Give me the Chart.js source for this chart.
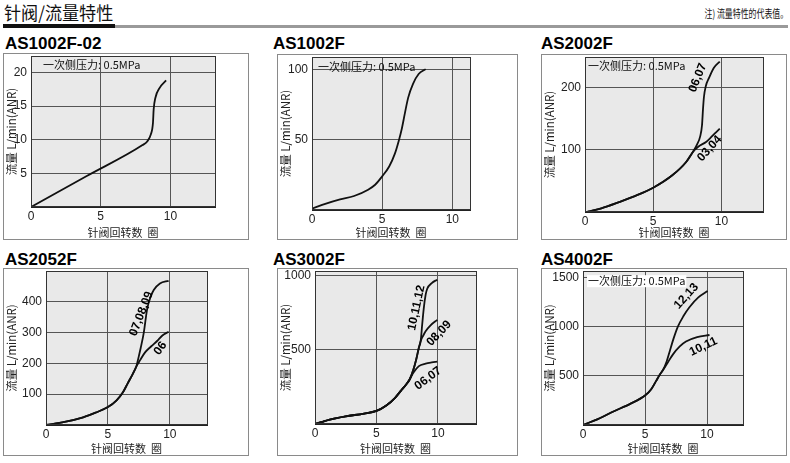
<!DOCTYPE html>
<html>
<head>
<meta charset="utf-8">
<script src="https://cdn.jsdelivr.net/npm/chart.js@4.4.0/dist/chart.umd.min.js"></script>
<style>
body{margin:0;width:790px;height:463px;background:#fff;position:relative;overflow:hidden;font-family:"Liberation Sans",Arial,sans-serif;}
.hd{position:absolute;left:4px;top:1px;font:18px/22px "Noto Sans CJK SC";color:#111;transform:scaleX(0.95);transform-origin:left;}
.barK{position:absolute;left:3px;top:24px;width:112px;height:4px;background:#111;}
.barG{position:absolute;left:115px;top:25px;width:673px;height:3px;background:#9a9a9a;}
.note{position:absolute;right:2px;top:6px;font:11px/14px "Noto Sans CJK SC";color:#111;transform:scaleX(0.72);transform-origin:right;}
.ttl{position:absolute;font:bold 17px/17px "Liberation Sans",Arial,sans-serif;color:#000;}
.box{position:absolute;border:1px solid #8a8a8a;box-sizing:border-box;}
canvas{position:absolute;}
</style>
</head>
<body>
<div class="hd">针阀/流量特性</div>
<div class="barK"></div><div class="barG"></div>
<div class="note">注) 流量特性的代表值。</div>
<script>
// AS1002F-02
var as1002f02Turns = [0, 4, 8.0, 8.32, 8.6, 8.75, 8.8, 8.92, 9.23, 9.69];
var as1002f02Flow  = [0, 4.6, 9.2, 9.7, 10.8, 12.5, 14.5, 16.2, 17.7, 18.8];

// AS1002F
var as1002fTurns = [0, 1, 2, 3, 4, 4.5, 5, 5.5, 5.9, 6.2, 6.4, 6.6, 6.85, 7.2, 7.6, 8.1];
var as1002fFlow  = [1, 4.5, 7.5, 10, 14.5, 18, 24, 31, 40, 50, 58, 68, 80, 90, 97, 100.5];

// AS2002F (common part, then 06,07 and 03,04)
var as2002fTurns   = [0.2, 1.2, 2.5, 3.7, 5, 6.4, 7.4, 7.92];
var as2002fFlow    = [0.5, 6, 16, 26, 39, 59, 80, 97];
var as2002f0607Turns = [8.2, 8.45, 8.58, 8.65, 8.72, 8.85, 9.1, 9.45, 9.88];
var as2002f0607Flow  = [108, 122, 140, 165, 185, 202, 216, 232, 242];
var as2002f0304Turns = [8.3, 8.9, 9.15, 9.5, 9.88];
var as2002f0304Flow  = [105, 113, 118, 126, 134];

// AS2052F (common part, then 07,08,09 and 06)
var as2052fTurns = [0, 1.5, 3, 4, 5, 5.7, 6.2, 6.6, 7.0, 7.3];
var as2052fFlow  = [0, 10, 25, 40, 58, 80, 105, 135, 165, 190];
var as2052f070809Turns = [7.45, 7.65, 7.9, 8.17, 8.45, 8.7, 9.2, 9.9];
var as2052f070809Flow  = [215, 250, 300, 376, 415, 437, 458, 467];
var as2052f06Turns = [7.6, 8.0, 8.5, 8.97, 9.4, 9.9];
var as2052f06Flow  = [210, 235, 255, 272, 290, 302];

// AS3002F (common part, then 06,07 / shared 08-12 part, 08,09 and 10,11,12)
var as3002fTurns = [0, 0.5, 1.2, 2.5, 4, 5, 5.8, 6.5, 7.0, 7.4, 7.7];
var as3002fFlow  = [0, 12, 30, 52, 70, 88, 125, 175, 225, 265, 300];
var as3002f0607Turns = [8.0, 8.45, 9.0, 9.5, 9.95];
var as3002f0607Flow  = [345, 390, 407, 415, 420];
var as3002fUpperTurns = [8.0, 8.25, 8.45, 8.6];
var as3002fUpperFlow  = [365, 440, 514, 560];
var as3002f0809Turns = [8.8, 9.0, 9.4, 9.95];
var as3002f0809Flow  = [595, 625, 665, 702];
var as3002f101112Turns = [8.72, 8.85, 9.0, 9.13, 9.5, 9.95];
var as3002f101112Flow  = [669, 780, 870, 912, 950, 973];

// AS4002F (common part, then 12,13 and 10,11)
var as4002fTurns = [0.1, 1.2, 2.5, 3.8, 5, 5.5, 5.9, 6.2, 6.45];
var as4002fFlow  = [5, 60, 140, 215, 300, 365, 450, 515, 560];
var as4002f1213Turns = [6.75, 7.0, 7.3, 7.64, 8.1, 8.58, 9.3, 10.05];
var as4002f1213Flow  = [650, 755, 880, 1000, 1110, 1200, 1300, 1365];
var as4002f1011Turns = [6.8, 7.24, 7.8, 8.3, 9.2, 10.2];
var as4002f1011Flow  = [630, 717, 800, 850, 895, 917];

// tick labels
var turnTicks = [0, 5, 10];
var as1002f02Ticks = [5, 10, 15, 20];
var as1002fTicks = [50, 100];
var as2002fTicks = [100, 200];
var as2052fTicks = [100, 200, 300, 400];
var as3002fTicks = [500, 1000];
var as4002fTicks = [500, 1000, 1500];

var xTitle = '针阀回转数  圈';
var yTitle = '流量 L/min(ANR)';
var pressureNote = '一次侧压力: 0.5MPa';

function join(a, b) { return a.concat(b); }
function pts(xs, ys) { return xs.map(function (x, i) { return {x: x, y: ys[i]}; }); }

var panels = [
  {title: 'AS1002F-02', tx: 5, ty: 35, box: [3, 53, 249, 240], plot: [31, 53, 215, 207], xMax: 13.2, yMax: 22.4, yTicks: as1002f02Ticks,
   series: [pts(as1002f02Turns, as1002f02Flow)], tags: [], note: [12, 9, false]},
  {title: 'AS1002F', tx: 273, ty: 35, box: [277, 54, 518, 240], plot: [312, 54, 470, 210], xMax: 11.26, yMax: 109, yTicks: as1002fTicks,
   series: [pts(as1002fTurns, as1002fFlow)], tags: [], note: [6, 10, false]},
  {title: 'AS2002F', tx: 541, ty: 35, box: [541, 54, 787, 240], plot: [585, 54, 763, 212], xMax: 13.05, yMax: 249, yTicks: as2002fTicks,
   series: [pts(join(as2002fTurns, as2002f0607Turns), join(as2002fFlow, as2002f0607Flow)),
            pts(join(as2002fTurns, as2002f0304Turns), join(as2002fFlow, as2002f0304Flow))],
   tags: [['06,07', 8.27, 216, -68], ['03,04', 9.14, 102, -48]], note: [3, 9, false]},
  {title: 'AS2052F', tx: 5, ty: 251, box: [3, 268, 249, 456], plot: [46, 268, 207, 425], xMax: 13.0, yMax: 498, yTicks: as2052fTicks,
   series: [pts(join(as2052fTurns, as2052f070809Turns), join(as2052fFlow, as2052f070809Flow)),
            pts(join(as2052fTurns, as2052f06Turns), join(as2052fFlow, as2052f06Flow))],
   tags: [['07,08,09', 7.7, 360, -69], ['06', 9.24, 248, -55]], note: null},
  {title: 'AS3002F', tx: 273, ty: 251, box: [277, 268, 518, 456], plot: [315, 268, 476, 424], xMax: 13.1, yMax: 1030, yTicks: as3002fTicks,
   series: [pts(join(as3002fTurns, as3002f0607Turns), join(as3002fFlow, as3002f0607Flow)),
            pts(join(join(as3002fTurns, as3002fUpperTurns), as3002f0809Turns), join(join(as3002fFlow, as3002fUpperFlow), as3002f0809Flow)),
            pts(join(join(as3002fTurns, as3002fUpperTurns), as3002f101112Turns), join(join(as3002fFlow, as3002fUpperFlow), as3002f101112Flow))],
   tags: [['10,11,12', 8.26, 783, -78], ['08,09', 10.1, 611, -47], ['06,07', 9.2, 307, -37]], note: null},
  {title: 'AS4002F', tx: 541, ty: 251, box: [541, 268, 787, 456], plot: [583, 268, 743, 425], xMax: 12.9, yMax: 1567, yTicks: as4002fTicks,
   series: [pts(join(as4002fTurns, as4002f1213Turns), join(as4002fFlow, as4002f1213Flow)),
            pts(join(as4002fTurns, as4002f1011Turns), join(as4002fFlow, as4002f1011Flow))],
   tags: [['12,13', 8.34, 1313, -48], ['10,11', 9.7, 798, -25]], note: [5, 10, true]}
];

var plotDecor = {
  id: 'plotDecor',
  beforeDraw: function (chart) {
    var a = chart.chartArea, c = chart.ctx;
    c.save();
    c.fillStyle = '#e9e9e9';
    c.fillRect(a.left, a.top, a.right - a.left, a.bottom - a.top);
    c.restore();
  },
  afterDraw: function (chart) {
    var a = chart.chartArea, c = chart.ctx, p = chart.options.plugins.plotDecor;
    c.save();
    c.strokeStyle = '#333';
    c.lineWidth = 1;
    c.strokeRect(Math.round(a.left) + 0.5, Math.round(a.top) + 0.5, Math.round(a.right - a.left), Math.round(a.bottom - a.top) - 1);
    if (p.note) {
      c.font = '11px "Noto Sans CJK SC"';
      c.textBaseline = 'middle';
      var nx = a.left + p.note[0], ny = a.top + p.note[1];
      if (p.note[2]) {
        var w = c.measureText(pressureNote).width;
        c.fillStyle = '#fff';
        c.fillRect(nx - 1, ny - 6, w + 2, 12);
      }
      c.fillStyle = '#111';
      c.fillText(pressureNote, nx, ny);
    }
    c.font = 'bold 12px "Liberation Sans", Arial, sans-serif';
    c.textAlign = 'center';
    c.textBaseline = 'middle';
    c.fillStyle = '#000';
    p.tags.forEach(function (t) {
      var px = chart.scales.x.getPixelForValue(t[1]);
      var py = chart.scales.y.getPixelForValue(t[2]);
      c.save();
      c.translate(px, py);
      c.rotate(t[3] * Math.PI / 180);
      c.fillText(t[0], 0, 0);
      c.restore();
    });
    c.restore();
  }
};

function plain(v) { return String(v); }

function makePanel(p) {
  var box = p.box, plot = p.plot;
  var ttl = document.createElement('div');
  ttl.className = 'ttl';
  ttl.textContent = p.title;
  ttl.style.left = p.tx + 'px';
  ttl.style.top = p.ty + 'px';
  document.body.appendChild(ttl);

  var frame = document.createElement('div');
  frame.className = 'box';
  frame.style.left = box[0] + 'px';
  frame.style.top = box[1] + 'px';
  frame.style.width = (box[2] - box[0]) + 'px';
  frame.style.height = (box[3] - box[1]) + 'px';
  document.body.appendChild(frame);

  var cv = document.createElement('canvas');
  cv.width = box[2] - box[0];
  cv.height = box[3] - box[1] + 8;
  cv.style.left = box[0] + 'px';
  cv.style.top = (box[1] - 8) + 'px';
  document.body.appendChild(cv);

  new Chart(cv.getContext('2d'), {
    type: 'scatter',
    data: {
      datasets: p.series.map(function (s) {
        return {data: s, showLine: true, borderColor: '#111', borderWidth: 1.8, pointRadius: 0,
                cubicInterpolationMode: 'monotone', fill: false};
      })
    },
    options: {
      responsive: false,
      animation: false,
      events: [],
      layout: {padding: {top: 8, right: box[2] - plot[2], left: 0, bottom: 0}},
      plugins: {legend: {display: false}, tooltip: {enabled: false},
                plotDecor: {note: p.note, tags: p.tags}},
      scales: {
        x: {
          type: 'linear', min: 0, max: p.xMax,
          afterFit: function (s) { s.height = box[3] - plot[3]; },
          afterBuildTicks: function (s) { s.ticks = turnTicks.map(function (v) { return {value: v}; }); },
          ticks: {padding: 2, color: '#222', font: {size: 12, family: '"Liberation Sans", Arial'}, callback: plain},
          grid: {color: '#555', drawTicks: false},
          border: {color: '#222'},
          title: {display: true, text: xTitle, color: '#222', font: {size: 11, family: '"Noto Sans CJK SC"'}, padding: {top: 0, bottom: 1}}
        },
        y: {
          type: 'linear', min: 0, max: p.yMax,
          afterFit: function (s) { s.width = plot[0] - box[0]; },
          afterBuildTicks: function (s) { s.ticks = p.yTicks.map(function (v) { return {value: v}; }); },
          ticks: {padding: 4, color: '#222', font: {size: 12, family: '"Liberation Sans", Arial'}, callback: plain},
          grid: {color: '#555', drawTicks: false},
          border: {color: '#222'},
          title: {display: true, text: yTitle, color: '#222', font: {size: 11.5, family: '"Noto Sans CJK SC"'}, padding: {top: 2, bottom: 0}}
        }
      }
    },
    plugins: [plotDecor]
  });
}

panels.forEach(makePanel);
</script>
</body>
</html>
